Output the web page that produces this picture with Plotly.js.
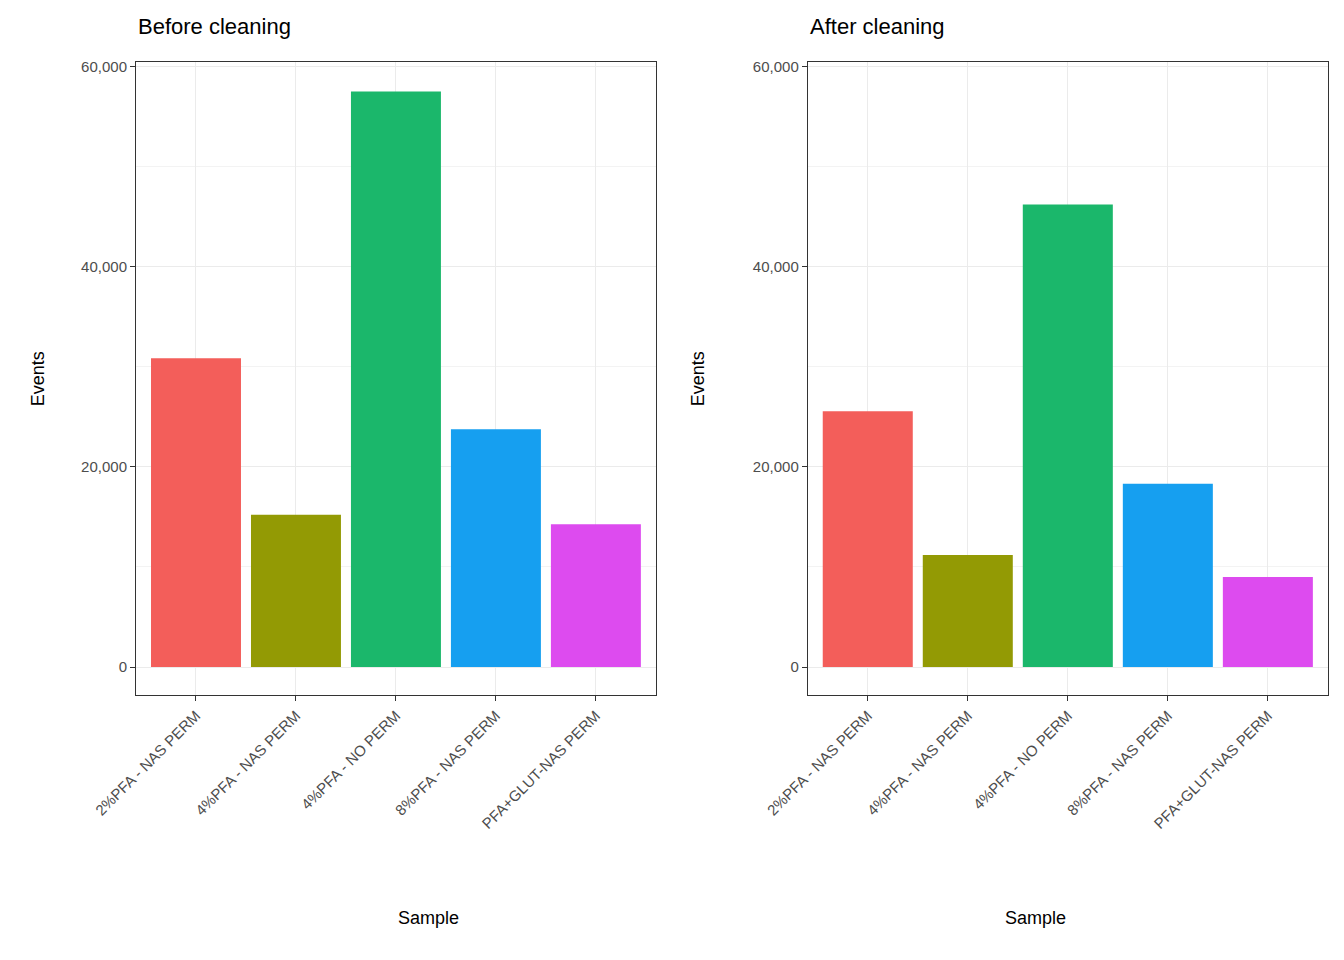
<!DOCTYPE html>
<html>
<head>
<meta charset="utf-8">
<script src="https://cdn.plot.ly/plotly-3.0.1.min.js"></script>
<style>body{margin:0}#chart{width:1344px;height:960px}</style>
</head>
<body>
<div id="chart"></div>
<script>
// Samples and event counts
var samples = ["2%PFA - NAS PERM", "4%PFA - NAS PERM", "4%PFA - NO PERM", "8%PFA - NAS PERM", "PFA+GLUT-NAS PERM"];
var beforeEvents = [30850, 15200, 57500, 23750, 14250];
var afterEvents = [25550, 11200, 46200, 18300, 9000];
var colors = ["#F8766D", "#A3A500", "#00BF7D", "#00B0F6", "#E76BF3"];
var colorsShown = ["#F35E5A", "#939A04", "#1BB76B", "#169FF0", "#DD4BEF"];

var font = "Liberation Sans, Arial, sans-serif";

var data = [
    {x: samples, y: beforeEvents, type: 'bar', marker: {color: colorsShown}, xaxis: 'x', yaxis: 'y', hoverinfo: 'x+y'},
    {x: samples, y: afterEvents, type: 'bar', marker: {color: colorsShown}, xaxis: 'x2', yaxis: 'y2', hoverinfo: 'x+y'}
];

function xAxis(domain, anchor) {
    return {
        domain: domain, anchor: anchor, range: [-0.6, 4.6],
        showline: true, mirror: true, linecolor: '#333333', linewidth: 1,
        showgrid: true, gridcolor: '#EBEBEB', gridwidth: 1.2,
        ticks: 'outside', ticklen: 5, tickcolor: '#333333',
        tickangle: -45, tickfont: {family: font, size: 15, color: '#4D4D4D'},
        zeroline: false, fixedrange: true
    };
}
function yAxis(anchor) {
    return {
        domain: [0.276, 0.935], anchor: anchor, range: [-2800, 60400],
        dtick: 20000, tick0: 0, tickformat: ',d',
        showline: true, mirror: true, linecolor: '#333333', linewidth: 1,
        showgrid: true, gridcolor: '#EBEBEB', gridwidth: 1.2,
        minor: {dtick: 10000, tick0: 0, showgrid: true, gridcolor: '#F3F3F3', gridwidth: 0.7},
        ticks: 'outside', ticklen: 5, tickcolor: '#333333',
        tickfont: {family: font, size: 15, color: '#4D4D4D'},
        zeroline: false, fixedrange: true
    };
}

var annot = function (text, x, y, opts) {
    return Object.assign({text: text, x: x, y: y, xref: 'paper', yref: 'paper', showarrow: false,
        font: {family: font, size: 18, color: '#000000'}}, opts || {});
};

var layout = {
    width: 1344, height: 960,
    margin: {l: 0, r: 0, t: 0, b: 0},
    paper_bgcolor: 'white', plot_bgcolor: 'white',
    showlegend: false, bargap: 0.1,
    xaxis: xAxis([0.1012, 0.488], 'y'),
    yaxis: yAxis('x'),
    xaxis2: xAxis([0.601, 0.988], 'y2'),
    yaxis2: yAxis('x2'),
    annotations: [
        annot('Before cleaning', 0.1012, 0.972, {xanchor: 'left', yanchor: 'middle', font: {family: font, size: 22, color: '#000'}}),
        annot('After cleaning', 0.601, 0.972, {xanchor: 'left', yanchor: 'middle', font: {family: font, size: 22, color: '#000'}}),
        annot('Events', 0.019, 0.6055, {textangle: -90}),
        annot('Events', 0.519, 0.6055, {textangle: -90}),
        annot('Sample', 0.2946, 0.031),
        annot('Sample', 0.7946, 0.031)
    ]
};

Plotly.newPlot('chart', data, layout, {displayModeBar: false});
</script>
</body>
</html>
